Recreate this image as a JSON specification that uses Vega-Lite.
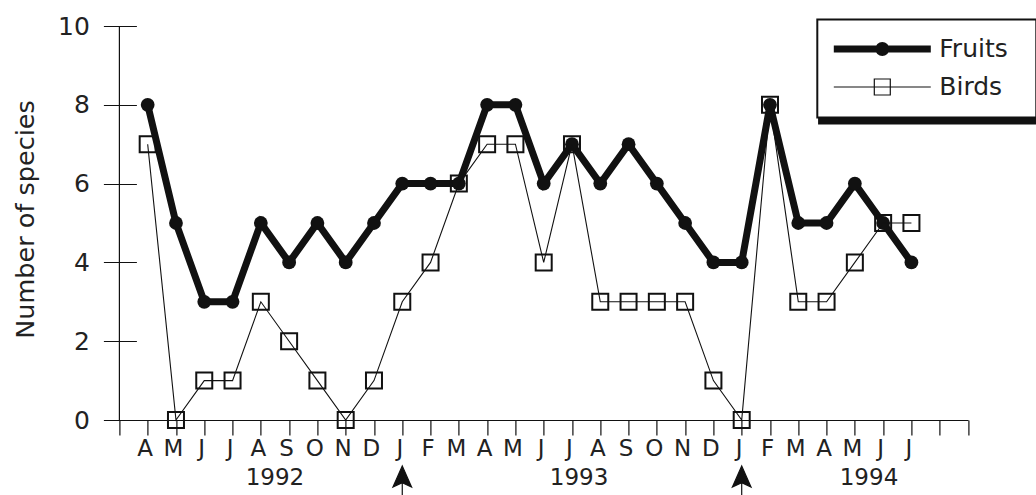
{
  "$schema": "https://vega.github.io/schema/vega-lite/v6.json",
  "width": 848.6,
  "height": 394,
  "autosize": {"type": "none"},
  "padding": {"left": 119.4, "top": 26, "right": 68, "bottom": 75},
  "background": "white",
  "config": {
    "view": {"stroke": null},
    "font": "DejaVu Sans",
    "text": {"font": "DejaVu Sans"},
    "legend": {"strokeWidth": 2},
    "axisX": {
      "title": null,
      "grid": false,
      "values": [-1, 0, 1, 2, 3, 4, 5, 6, 7, 8, 9, 10, 11, 12, 13, 14, 15, 16, 17, 18, 19, 20, 21, 22, 23, 24, 25, 26, 27, 28, 29],
      "tickSize": 15,
      "tickWidth": 1.2,
      "tickColor": "#111",
      "domainColor": "#111",
      "domainWidth": 1.2,
      "labelFont": "DejaVu Sans",
      "labelFontSize": 23,
      "labelColor": "#222",
      "labelPadding": 2,
      "labelOffset": -3,
      "labelFlush": false,
      "labelOverlap": false,
      "labelBound": false
    }
  },
  "datasets": {
    "counts": [
      {"month": "1992-04", "t": 0, "Fruits": 8, "Birds": 7},
      {"month": "1992-05", "t": 1, "Fruits": 5, "Birds": 0},
      {"month": "1992-06", "t": 2, "Fruits": 3, "Birds": 1},
      {"month": "1992-07", "t": 3, "Fruits": 3, "Birds": 1},
      {"month": "1992-08", "t": 4, "Fruits": 5, "Birds": 3},
      {"month": "1992-09", "t": 5, "Fruits": 4, "Birds": 2},
      {"month": "1992-10", "t": 6, "Fruits": 5, "Birds": 1},
      {"month": "1992-11", "t": 7, "Fruits": 4, "Birds": 0},
      {"month": "1992-12", "t": 8, "Fruits": 5, "Birds": 1},
      {"month": "1993-01", "t": 9, "Fruits": 6, "Birds": 3},
      {"month": "1993-02", "t": 10, "Fruits": 6, "Birds": 4},
      {"month": "1993-03", "t": 11, "Fruits": 6, "Birds": 6},
      {"month": "1993-04", "t": 12, "Fruits": 8, "Birds": 7},
      {"month": "1993-05", "t": 13, "Fruits": 8, "Birds": 7},
      {"month": "1993-06", "t": 14, "Fruits": 6, "Birds": 4},
      {"month": "1993-07", "t": 15, "Fruits": 7, "Birds": 7},
      {"month": "1993-08", "t": 16, "Fruits": 6, "Birds": 3},
      {"month": "1993-09", "t": 17, "Fruits": 7, "Birds": 3},
      {"month": "1993-10", "t": 18, "Fruits": 6, "Birds": 3},
      {"month": "1993-11", "t": 19, "Fruits": 5, "Birds": 3},
      {"month": "1993-12", "t": 20, "Fruits": 4, "Birds": 1},
      {"month": "1994-01", "t": 21, "Fruits": 4, "Birds": 0},
      {"month": "1994-02", "t": 22, "Fruits": 8, "Birds": 8},
      {"month": "1994-03", "t": 23, "Fruits": 5, "Birds": 3},
      {"month": "1994-04", "t": 24, "Fruits": 5, "Birds": 3},
      {"month": "1994-05", "t": 25, "Fruits": 6, "Birds": 4},
      {"month": "1994-06", "t": 26, "Fruits": 5, "Birds": 5},
      {"month": "1994-07", "t": 27, "Fruits": 4, "Birds": 5}
    ],
    "years": [
      {"year": "1992", "t": 4.5},
      {"year": "1993", "t": 15.25},
      {"year": "1994", "t": 25.5}
    ],
    "arrows": [
      {"month": "1993-01", "t": 9},
      {"month": "1994-01", "t": 21}
    ],
    "frame": [
      {"part": "frame"}
    ]
  },
  "layer": [
    {
      "data": {"name": "counts"},
      "mark": {"type": "line", "color": "#111", "strokeWidth": 7},
      "encoding": {
        "x": {
          "field": "t",
          "type": "quantitative",
          "scale": {"domain": [-1, 29], "nice": false, "zero": false},
          "axis": {
            "labelExpr": "datum.value >= 0 && datum.value <= 27 ? ['J','F','M','A','M','J','J','A','S','O','N','D'][(datum.value + 3) % 12] : ''"
          }
        },
        "y": {
          "field": "Fruits",
          "type": "quantitative",
          "scale": {"domain": [0, 10], "nice": false},
          "axis": {
            "values": [0, 2, 4, 6, 8, 10],
            "offset": -17,
            "tickSize": 33,
            "tickWidth": 1.2,
            "tickColor": "#111",
            "domain": false,
            "grid": false,
            "labelFont": "DejaVu Sans",
            "labelFontSize": 25,
            "labelColor": "#222",
            "labelPadding": 14,
            "title": "Number of species",
            "titleFont": "DejaVu Sans",
            "titleFontSize": 25.5,
            "titleFontWeight": "normal",
            "titleColor": "#222",
            "titleAngle": -90,
            "titleX": -103,
            "titleY": 193,
            "titleAlign": "center",
            "titleBaseline": "alphabetic"
          }
        }
      }
    },
    {
      "data": {"name": "frame"},
      "mark": {"type": "rect", "color": "#111"},
      "encoding": {
        "x": {"datum": 23.7, "type": "quantitative"},
        "x2": {"datum": 36},
        "y": {"datum": 7.69, "type": "quantitative"},
        "y2": {"datum": 7.5}
      }
    },
    {
      "data": {"name": "frame"},
      "mark": {"type": "rule", "color": "#111", "strokeWidth": 1.2},
      "encoding": {
        "x": {"datum": -1, "type": "quantitative"},
        "y": {"datum": 0, "type": "quantitative"},
        "y2": {"datum": 10}
      }
    },
    {
      "data": {"name": "counts"},
      "mark": {"type": "point", "shape": "circle", "filled": true, "size": 190, "opacity": 1, "color": "#111"},
      "encoding": {
        "x": {"field": "t", "type": "quantitative"},
        "y": {"field": "Fruits", "type": "quantitative"}
      }
    },
    {
      "data": {"name": "counts"},
      "mark": {"type": "line", "color": "#111", "strokeWidth": 1.1},
      "encoding": {
        "x": {"field": "t", "type": "quantitative"},
        "y": {"field": "Birds", "type": "quantitative"}
      }
    },
    {
      "data": {"name": "counts"},
      "mark": {"type": "point", "shape": "square", "filled": false, "size": 256, "opacity": 1},
      "encoding": {
        "x": {"field": "t", "type": "quantitative"},
        "y": {"field": "Birds", "type": "quantitative"},
        "color": {
          "datum": "Birds",
          "type": "nominal",
          "scale": {"domain": ["Fruits", "Birds"], "range": ["#111", "#111"]},
          "legend": {
            "title": " ",
            "titleOrient": "right",
            "titlePadding": 12,
            "titleFontSize": 20,
            "orient": "none",
            "legendX": 697.9,
            "legendY": -6.5,
            "padding": 17,
            "strokeColor": "#111",
            "fillColor": "white",
            "symbolSize": 784,
            "symbolOffset": 35.5,
            "labelOffset": 44.5,
            "rowPadding": 8,
            "labelFont": "DejaVu Sans",
            "labelFontSize": 25,
            "labelColor": "#222",
            "symbolType": {"expr": "datum.value === 'Fruits' ? 'M-3.464,0H3.464M-0.25,0A0.25,0.25,0,1,0,0.25,0A0.25,0.25,0,1,0,-0.25,0Z' : 'M-3.464,0H3.464M-0.571,-0.571H0.571V0.571H-0.571Z'"},
            "symbolStrokeWidth": {"expr": "datum.value === 'Fruits' ? 7 : 1.2"},
            "symbolFillColor": "transparent",
            "symbolStrokeColor": "#111",
            "symbolOpacity": 1
          }
        }
      }
    },
    {
      "data": {"name": "years"},
      "mark": {"type": "text", "font": "DejaVu Sans", "fontSize": 23, "color": "#222", "baseline": "alphabetic", "align": "center"},
      "encoding": {
        "x": {"field": "t", "type": "quantitative"},
        "y": {"datum": -1.65, "type": "quantitative"},
        "text": {"field": "year"}
      }
    },
    {
      "data": {"name": "arrows"},
      "mark": {
        "type": "point",
        "shape": "M0,-1.4L0.93,0.7L0,0.27L-0.93,0.7ZM0,0.27V2",
        "filled": true,
        "size": 400,
        "color": "#111",
        "stroke": "#111",
        "strokeWidth": 1.2,
        "opacity": 1
      },
      "encoding": {
        "x": {"field": "t", "type": "quantitative"},
        "y": {"datum": -1.523, "type": "quantitative"}
      }
    }
  ]
}
